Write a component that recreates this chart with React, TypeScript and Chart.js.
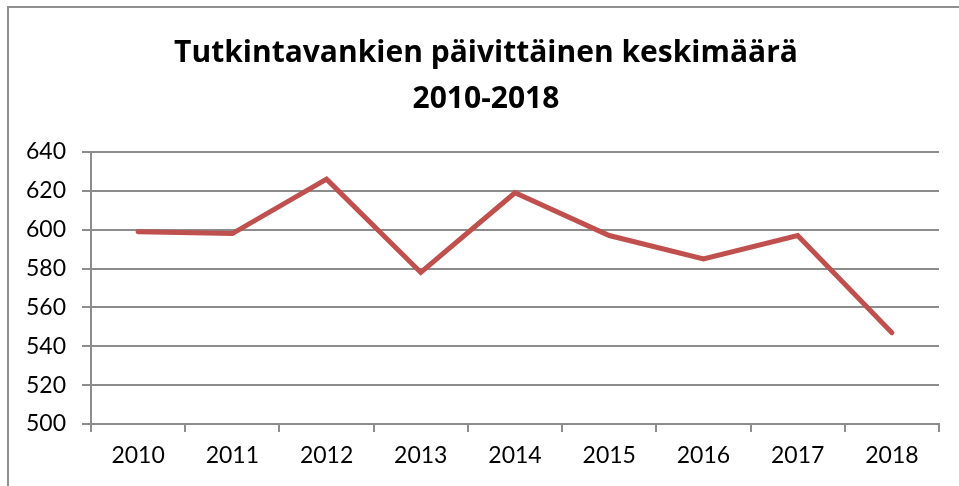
import React, { useEffect, useRef } from "react";
import { Chart, registerables } from "chart.js";

Chart.register(...registerables);

const years: string[] = ["2010", "2011", "2012", "2013", "2014", "2015", "2016", "2017", "2018"];
const dailyAverage: number[] = [599, 598, 626, 578, 619, 597, 585, 597, 547];
const titleLines: string[] = ["Tutkintavankien päivittäinen keskimäärä", "2010-2018"];
const yMin = 500;
const yMax = 640;
const yStep = 20;

const GRID = "#8c8c8c";
const LINE = "#C0504D";
const FONT = "Lato, 'DejaVu Sans', sans-serif";
const TITLE_FONT = "'Open Sans', Lato, sans-serif";

export default function App() {
  const ref = useRef<HTMLCanvasElement | null>(null);

  useEffect(() => {
    if (!ref.current) return;
    const chart = new Chart(ref.current, {
      type: "line",
      data: {
        labels: years,
        datasets: [
          {
            data: dailyAverage,
            borderColor: LINE,
            backgroundColor: LINE,
            borderWidth: 5,
            pointRadius: 0,
            pointHoverRadius: 0,
            tension: 0,
            borderCapStyle: "round",
            borderJoinStyle: "miter",
          },
        ],
      },
      options: {
        animation: false,
        responsive: false,
        devicePixelRatio: 1,
        layout: { padding: { left: 0, right: 20, top: 152, bottom: 0 } },
        plugins: {
          legend: { display: false },
          tooltip: { enabled: false },
          title: { display: false },
        },
        scales: {
          x: {
            offset: true,
            grid: {
              offset: true,
              drawOnChartArea: false,
              drawTicks: true,
              tickLength: 8,
              color: GRID,
              lineWidth: 2,
            },
            border: { display: true, color: GRID, width: 2 },
            ticks: {
              color: "#000000",
              font: { family: FONT, size: 23 },
              padding: 10,
              maxRotation: 0,
              autoSkip: false,
            },
            afterFit: (scale: any) => {
              scale.height = 62;
            },
          },
          y: {
            min: yMin,
            max: yMax,
            grid: {
              drawOnChartArea: true,
              drawTicks: true,
              tickLength: 9,
              color: GRID,
              lineWidth: 2,
            },
            border: { display: true, color: GRID, width: 2 },
            ticks: {
              stepSize: yStep,
              color: "#000000",
              font: { family: FONT, size: 23 },
              padding: 16,
            },
            afterFit: (scale: any) => {
              scale.width = 91;
            },
          },
        },
      },
    });
    return () => chart.destroy();
  }, []);

  return (
    <div
      style={{
        position: "absolute",
        left: 0,
        top: 0,
        width: 959,
        height: 486,
        overflow: "hidden",
        background: "#ffffff",
      }}
    >
      <canvas ref={ref} width={959} height={486} style={{ position: "absolute", left: 0, top: 0 }} />
      <div
        style={{
          position: "absolute",
          left: 0,
          top: 28,
          width: 972,
          textAlign: "center",
          fontFamily: TITLE_FONT,
          fontWeight: 700,
          fontSize: 30,
          lineHeight: "46px",
          color: "#000000",
          whiteSpace: "nowrap",
        }}
      >
        {titleLines.map((t, i) => (
          <div key={i}>{t}</div>
        ))}
      </div>
      <div
        style={{
          position: "absolute",
          left: 7,
          top: 6,
          width: 1000,
          height: 600,
          borderLeft: "2px solid #8e8e8e",
          borderTop: "2px solid #8e8e8e",
          pointerEvents: "none",
        }}
      />
    </div>
  );
}
